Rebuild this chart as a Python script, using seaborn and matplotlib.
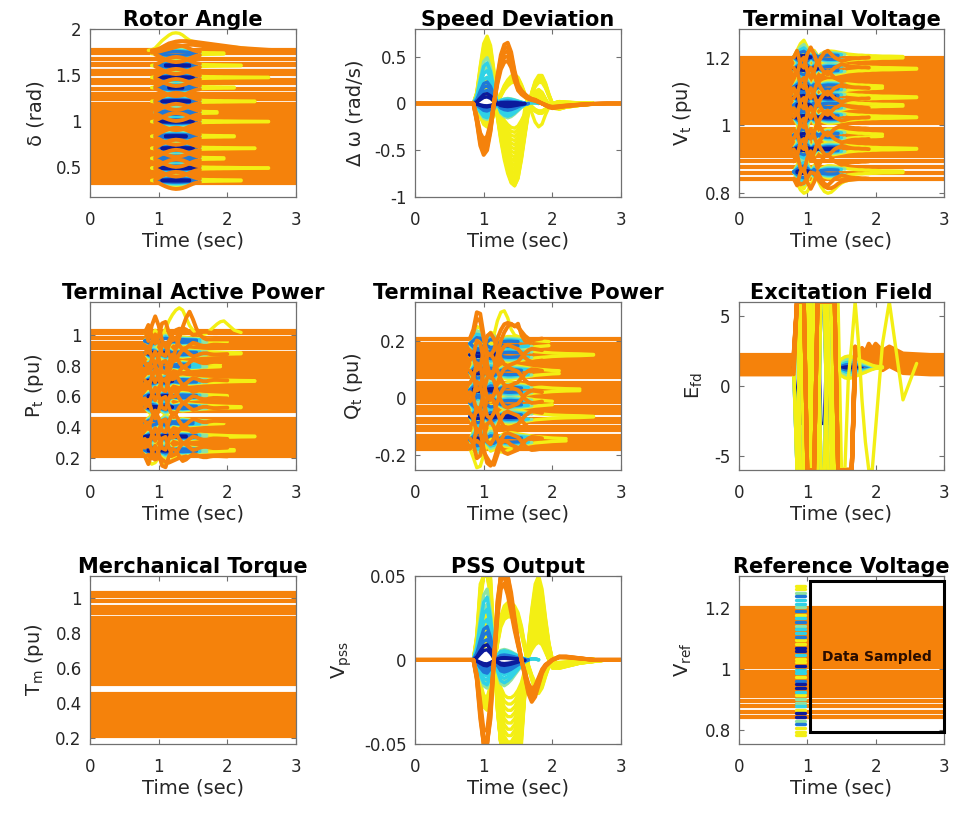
import numpy as np
import pandas as pd
import matplotlib
matplotlib.use("Agg")
import matplotlib.pyplot as plt
from matplotlib.patches import Rectangle
import seaborn as sns

# ---------------------------------------------------------------- data
# sampling instants (s) shared by every trajectory
TIME = [0.00, 0.80, 0.85, 0.90, 0.95, 1.00, 1.05, 1.10,
        1.15, 1.20, 1.25, 1.30, 1.35, 1.40, 1.45, 1.50,
        1.55, 1.60, 1.65, 1.70, 1.75, 1.80, 1.85, 1.90,
        1.95, 2.00, 2.10, 2.20, 2.40, 2.60, 2.80, 3.00]
NO_MOTION = [0.0] * len(TIME)

# disturbance classes and their colours ("orange_top" = orange traces drawn last)
GROUP_NAMES = ["navy", "blue", "cyan", "green", "yellow", "orange", "orange_top"]
GROUP_COLORS = ["#0b1a9c", "#1f78d8", "#2fd2e6", "#8ee3a2", "#f3ef14", "#f5820b", "#f5820b"]
COLOUR_ORDER = ["yellow", "green", "cyan", "blue", "navy"]
NAVY, BLUE, CYAN, GREEN, YELLOW, ORANGE, ORANGE_TOP = range(7)

# relative swing of each class inside one oscillation "eye"
EYE_CLASSES = [YELLOW, GREEN, CYAN, BLUE, NAVY]
EYE_SCALES = [1.0, 0.75, 0.55, 0.35, 0.1]
# inner classes fade out once below this fraction of their own peak swing
SETTLE_FRACTION = {YELLOW: 0.0, GREEN: 0.22, CYAN: 0.28, BLUE: 0.33, NAVY: 0.35}
# how long each operating point keeps ringing (relative), cycled over the centres
PERSISTENCE = [1.0, 0.55, 1.6, 0.8, 1.25, 0.65, 1.9, 0.9, 1.4, 0.7, 1.1, 1.7]

# --- rotor angle (rad)
ROTOR_LEVELS = [0.32, 0.355, 0.39, 0.425, 0.46, 0.495, 0.53, 0.565, 0.60, 0.635,
                0.67, 0.705, 0.74, 0.775, 0.81, 0.845, 0.88, 0.915, 0.95, 0.985,
                1.02, 1.055, 1.09, 1.125, 1.155, 1.18, 1.24, 1.27, 1.285, 1.345,
                1.405, 1.43, 1.445, 1.505, 1.535, 1.545, 1.605, 1.615, 1.675, 1.735, 1.765]
ROTOR_CENTERS = [0.35, 0.485, 0.59, 0.70, 0.83, 0.99, 1.09, 1.21, 1.36, 1.47, 1.60, 1.73]
ROTOR_SWING = [0, 0, 0, 0, 0.007, 0.018, 0.031, 0.042,
               0.051, 0.057, 0.060, 0.058, 0.053, 0.045, 0.034, 0.024,
               0.016, 0.012, 0.010, 0.009, 0.008, 0.008, 0.007, 0.007,
               0.006, 0.006, 0.005, 0.004, 0.003, 0.002, 0.001, 0]
ROTOR_TOP_YELLOW = [1.765, 1.765, 1.765, 1.77, 1.79, 1.83, 1.87, 1.90,
                    1.93, 1.95, 1.955, 1.95, 1.93, 1.90, 1.875, 1.86,
                    1.85, 1.845, 1.84, 1.835, 1.83, 1.825, 1.82, 1.815,
                    1.81, 1.805, 1.80, 1.79, 1.775, 1.767, 1.765, 1.765]
ROTOR_TOP_ORANGE = [1.765, 1.765, 1.765, 1.765, 1.77, 1.78, 1.80, 1.82,
                    1.84, 1.85, 1.86, 1.865, 1.865, 1.865, 1.86, 1.86,
                    1.855, 1.85, 1.845, 1.84, 1.835, 1.83, 1.825, 1.82,
                    1.815, 1.81, 1.80, 1.79, 1.78, 1.77, 1.765, 1.765]
ROTOR_TOP_ORANGE_2 = [1.74, 1.74, 1.74, 1.74, 1.745, 1.75, 1.76, 1.77,
                      1.78, 1.79, 1.80, 1.81, 1.815, 1.82, 1.825, 1.825,
                      1.82, 1.815, 1.81, 1.805, 1.80, 1.795, 1.79, 1.785,
                      1.78, 1.775, 1.77, 1.765, 1.755, 1.75, 1.745, 1.74]

# --- speed deviation (rad/s)
SPEED_SWING = [0, 0, 0, 0.12, 0.40, 0.64, 0.72, 0.62,
               0.35, 0.02, -0.30, -0.55, -0.72, -0.84, -0.88, -0.80,
               -0.58, -0.30, -0.05, 0.12, 0.24, 0.30, 0.30, 0.22,
               0.10, 0.0, -0.06, -0.04, -0.02, -0.005, 0, 0]
SPEED_TROUGH = [0, 0, 0, 0.05, 0.15, 0.25, 0.28, 0.20,
                0.05, -0.15, -0.40, -0.60, -0.75, -0.85, -0.88, -0.80,
                -0.60, -0.35, -0.10, 0.05, 0.12, 0.15, 0.12, 0.05,
                -0.02, -0.05, -0.06, -0.04, -0.02, -0.005, 0, 0]
SPEED_INNER = [0, 0, 0, 0.12, 0.40, 0.64, 0.70, 0.55,
               0.25, 0.0, -0.15, -0.20, -0.22, -0.20, -0.16, -0.11,
               -0.06, -0.02, 0.0, 0.01, 0.01, 0.0, 0, 0,
               0, 0, 0, 0, 0, 0, 0, 0]
SPEED_ORANGE = [0, 0, 0, -0.20, -0.45, -0.55, -0.50, -0.30,
                0.0, 0.30, 0.52, 0.63, 0.65, 0.55, 0.35, 0.20,
                0.14, 0.10, 0.07, 0.05, 0.04, 0.02, 0.0, -0.02,
                -0.04, -0.05, -0.04, -0.03, -0.015, -0.005, 0, 0]
SPEED_LATE_YELLOW = [0, 0, 0, 0.05, 0.20, 0.35, 0.40, 0.30,
                     0.10, -0.10, -0.30, -0.45, -0.55, -0.60, -0.60, -0.50,
                     -0.30, -0.05, 0.0, -0.10, -0.20, -0.25, -0.22, -0.12,
                     -0.04, 0.0, 0.01, 0.0, 0, 0, 0, 0]

# amplitude sets used for the speed and PSS families
OUTER_SCALES = [0.75, 0.80, 0.85, 0.90, 0.95, 1.00]
TROUGH_SCALES = [0.30, 0.35, 0.40, 0.45, 0.50, 0.55, 0.60, 0.65, 0.70, 0.75,
                 0.80, 0.85, 0.90, 0.95, 1.00]
INNER_SCALES = {GREEN: [0.55, 0.70], CYAN: [0.40, 0.50, 0.62],
                BLUE: [0.20, 0.27, 0.33], NAVY: [0.10, 0.15]}
ORANGE_SCALES = [0.70, 0.78, 0.86, 0.93, 1.00]

# --- terminal voltage (pu); the reference voltage shares the set points
VOLT_LEVELS = [0.843, 0.860, 0.877, 0.894, 0.911, 0.920, 0.930, 0.940, 0.950, 0.960,
               0.970, 0.980, 0.990, 1.006, 1.015, 1.024, 1.033, 1.042, 1.051, 1.060,
               1.070, 1.080, 1.090, 1.100, 1.110, 1.120, 1.130, 1.140, 1.150, 1.160,
               1.170, 1.180, 1.190, 1.200]
VT_CENTERS = [0.863, 0.931, 0.971, 1.024, 1.059, 1.083, 1.113, 1.167, 1.201]
VT_SWING = [0, 0, 0.02, 0.04, 0.05, 0.03, 0.0, -0.02,
            -0.005, 0.01, 0.015, 0.018, 0.018, 0.017, 0.015, 0.013,
            0.011, 0.009, 0.008, 0.007, 0.006, 0.006, 0.005, 0.005,
            0.004, 0.004, 0.003, 0.003, 0.002, 0.001, 0.001, 0]
VT_ORANGE = [0, 0, -0.02, 0.02, 0.03, -0.01, -0.03, -0.01,
             0.02, 0.0, -0.015, -0.02, -0.01, 0.0, 0.005, 0.01,
             0.008, 0.005, 0.003, 0.002, 0.002, 0.001, 0.001, 0.0,
             0, 0, 0, 0, 0, 0, 0, 0]
VT_LOW_YELLOW = [0.843, 0.843, 0.83, 0.81, 0.80, 0.805, 0.825, 0.845,
                 0.84, 0.82, 0.805, 0.80, 0.803, 0.812, 0.822, 0.83,
                 0.835, 0.838, 0.84, 0.841, 0.842, 0.842, 0.843, 0.843,
                 0.843, 0.843, 0.843, 0.843, 0.843, 0.843, 0.843, 0.843]
VT_LOW_ORANGE = [0.843, 0.843, 0.838, 0.826, 0.83, 0.845, 0.862, 0.858,
                 0.843, 0.83, 0.82, 0.815, 0.815, 0.82, 0.828, 0.834,
                 0.837, 0.839, 0.84, 0.841, 0.842, 0.842, 0.843, 0.843,
                 0.843, 0.843, 0.843, 0.843, 0.843, 0.843, 0.843, 0.843]

# --- active power / mechanical torque set points (pu)
POWER_LEVELS = [0.210, 0.229, 0.248, 0.267, 0.286, 0.305, 0.324, 0.343, 0.362, 0.381,
                0.400, 0.419, 0.438, 0.452, 0.508, 0.527, 0.546, 0.568, 0.587, 0.606,
                0.625, 0.644, 0.666, 0.685, 0.704, 0.723, 0.742, 0.761, 0.780, 0.802,
                0.821, 0.840, 0.859, 0.875, 0.885, 0.917, 0.933, 0.949, 0.982, 1.014, 1.027]
PT_CENTERS = [0.25, 0.34, 0.43, 0.53, 0.60, 0.70, 0.80, 0.88, 0.96]
PT_SWING = [0, 0, 0.03, 0.05, 0.035, 0.005, 0.03, 0.05,
            0.035, 0.01, 0.015, 0.022, 0.025, 0.022, 0.020, 0.018,
            0.016, 0.014, 0.012, 0.011, 0.010, 0.009, 0.008, 0.007,
            0.006, 0.005, 0.004, 0.003, 0.002, 0.001, 0, 0]
PT_ORANGE = [0, 0, -0.05, 0.02, 0.07, 0.02, -0.06, -0.07,
             0.0, 0.05, 0.04, 0.0, -0.03, -0.02, 0.0, 0.015,
             0.01, 0.0, -0.005, -0.005, 0.0, 0.003, 0.003, 0.002,
             0.001, 0, 0, 0, 0, 0, 0, 0]
PT_TOP_YELLOW = [1.014, 1.014, 0.97, 0.99, 1.03, 1.00, 0.98, 1.04,
                 1.09, 1.13, 1.16, 1.175, 1.16, 1.11, 1.06, 1.03,
                 1.01, 1.00, 1.00, 1.01, 1.03, 1.05, 1.07, 1.085,
                 1.09, 1.07, 1.03, 1.015, 1.014, 1.014, 1.014, 1.014]
PT_TOP_ORANGE = [1.027, 1.027, 0.96, 1.06, 1.12, 1.06, 0.96, 0.92,
                 0.96, 1.00, 1.03, 1.04, 1.035, 1.03, 1.03, 1.03,
                 1.028, 1.027, 1.027, 1.027, 1.027, 1.027, 1.027, 1.027,
                 1.027, 1.027, 1.027, 1.027, 1.027, 1.027, 1.027, 1.027]
PT_RISE_ORANGE = [0.78, 0.78, 0.75, 0.79, 0.80, 0.75, 0.71, 0.70,
                  0.75, 0.83, 0.91, 0.98, 1.05, 1.11, 1.15, 1.10,
                  1.04, 1.00, 0.98, 0.97, 0.97, 0.97, 0.97, 0.97,
                  0.97, 0.97, 0.97, 0.97, 0.97, 0.97, 0.97, 0.97]
PT_LOW_YELLOW = [0.21, 0.21, 0.18, 0.16, 0.17, 0.20, 0.18, 0.16,
                 0.17, 0.19, 0.20, 0.205, 0.21, 0.21, 0.21, 0.21,
                 0.21, 0.21, 0.21, 0.21, 0.21, 0.21, 0.21, 0.21,
                 0.21, 0.21, 0.21, 0.21, 0.21, 0.21, 0.21, 0.21]
PT_LOW_ORANGE = [0.21, 0.21, 0.22, 0.20, 0.19, 0.20, 0.19, 0.175,
                 0.17, 0.18, 0.19, 0.20, 0.205, 0.21, 0.21, 0.21,
                 0.21, 0.21, 0.21, 0.21, 0.21, 0.21, 0.21, 0.21,
                 0.21, 0.21, 0.21, 0.21, 0.21, 0.21, 0.21, 0.21]

# --- reactive power (pu)
QT_LEVELS = [-0.178, -0.166, -0.154, -0.142, -0.133, -0.113, -0.103, -0.083, -0.073, -0.053,
             -0.043, -0.033, -0.013, -0.002, 0.009, 0.020, 0.031, 0.042, 0.052, 0.072,
             0.083, 0.095, 0.107, 0.119, 0.131, 0.143, 0.155, 0.167, 0.179, 0.188, 0.208]
QT_CENTERS = [-0.147, -0.066, -0.018, 0.028, 0.09, 0.151, 0.19]
QT_SWING = [0, 0, 0.03, 0.06, 0.055, 0.02, -0.02, -0.04,
            -0.035, -0.01, 0.015, 0.022, 0.025, 0.025, 0.023, 0.021,
            0.019, 0.017, 0.015, 0.013, 0.011, 0.010, 0.009, 0.008,
            0.007, 0.006, 0.005, 0.004, 0.003, 0.001, 0, 0]
QT_ORANGE = [0, 0, 0.02, 0.07, 0.06, 0.0, -0.05, -0.06,
             -0.04, 0.0, 0.03, 0.05, 0.055, 0.05, 0.045, 0.04,
             0.025, 0.01, 0.0, -0.005, -0.004, -0.002, 0, 0,
             0, 0, 0, 0, 0, 0, 0, 0]
QT_TOP_ORANGE = [0.208, 0.208, 0.24, 0.30, 0.295, 0.22, 0.12, 0.07,
                 0.10, 0.15, 0.20, 0.23, 0.25, 0.26, 0.25, 0.26,
                 0.22, 0.20, 0.195, 0.20, 0.205, 0.207, 0.208, 0.208,
                 0.208, 0.208, 0.208, 0.208, 0.208, 0.208, 0.208, 0.208]
QT_TOP_YELLOW = [0.208, 0.208, 0.20, 0.22, 0.20, 0.15, 0.12, 0.16,
                 0.22, 0.27, 0.30, 0.305, 0.28, 0.24, 0.22, 0.215,
                 0.21, 0.21, 0.21, 0.209, 0.209, 0.208, 0.208, 0.208,
                 0.208, 0.208, 0.208, 0.208, 0.208, 0.208, 0.208, 0.208]
QT_LOW_YELLOW = [-0.178, -0.178, -0.21, -0.245, -0.24, -0.20, -0.15, -0.14,
                 -0.16, -0.18, -0.19, -0.19, -0.185, -0.18, -0.18, -0.178,
                 -0.178, -0.178, -0.178, -0.178, -0.178, -0.178, -0.178, -0.178,
                 -0.178, -0.178, -0.178, -0.178, -0.178, -0.178, -0.178, -0.178]
QT_LOW_ORANGE = [-0.178, -0.178, -0.16, -0.15, -0.16, -0.19, -0.21, -0.23,
                 -0.235, -0.20, -0.16, -0.15, -0.155, -0.165, -0.17, -0.175,
                 -0.178, -0.178, -0.178, -0.178, -0.178, -0.178, -0.178, -0.178,
                 -0.178, -0.178, -0.178, -0.178, -0.178, -0.178, -0.178, -0.178]

# --- excitation field voltage, ceiling +-6
EFD_CEILING = 6.0
EFD_LEVELS = [0.82, 1.02, 1.22, 1.42, 1.62, 1.82, 2.02, 2.20]
EFD_CENTERS = [1.32]
EFD_SWING = [0, 0, -40, 40, 40, -40, 40, -40,
             -40, 40, 40, -40, -40, 20, 0.4, 0.6,
             0.75, 0.8, 0.75, 0.65, 0.55, 0.45, 0.35, 0.25,
             0.15, 0.08, 0.03, 0, 0, 0, 0, 0]
EFD_ORANGE = [0, 0, 12, 12, 12, -12, -12, -12,
              12, 12, 12, 12, 12, 12, -12, -12,
              -12, -12, -12, 0.6, 0.2, 0.5, 0.2, 0.8,
              0.4, 0.8, 0.3, 0.6, 0.1, 0.05, 0, 0]
EFD_LATE_YELLOW = [1.6, 1.6, -8, 8, -8, 8, -8, 8,
                   8, 8, 8, 8, -8, -8, 8, -8,
                   -8, 0.5, 3, 8, 3, -1, -4, -8,
                   -8, -3, 3, 8, -1, 1.6, 1.6, 1.6]

# --- PSS output, limited to +-0.05
PSS_LIMIT = 0.05
PSS_SWING = [0, 0, 0, 0.015, 0.045, 0.07, 0.075, 0.05,
             0.01, -0.03, -0.065, -0.08, -0.085, -0.085, -0.08, -0.07,
             -0.05, -0.02, 0.01, 0.03, 0.045, 0.05, 0.042, 0.025,
             0.01, 0.0, -0.005, -0.004, -0.002, -0.001, 0, 0]
PSS_TROUGH = [0, 0, 0, 0.005, 0.015, 0.025, 0.03, 0.02,
              0.0, -0.03, -0.055, -0.07, -0.075, -0.075, -0.07, -0.06,
              -0.045, -0.02, 0.005, 0.02, 0.03, 0.035, 0.03, 0.015,
              0.0, -0.005, -0.005, -0.004, -0.002, -0.001, 0, 0]
PSS_INNER = [0, 0, 0, 0.012, 0.035, 0.055, 0.06, 0.04,
             0.01, -0.01, -0.02, -0.022, -0.02, -0.017, -0.013, -0.009,
             -0.005, -0.002, 0, 0.001, 0.001, 0, 0, 0,
             0, 0, 0, 0, 0, 0, 0, 0]
PSS_ORANGE = [0, 0, 0, -0.012, -0.035, -0.06, -0.06, -0.035,
              0.0, 0.035, 0.06, 0.065, 0.055, 0.04, 0.025, 0.012,
              0.0, -0.01, -0.02, -0.025, -0.022, -0.015, -0.008, -0.004,
              -0.002, 0.0, 0.002, 0.002, 0.001, 0.0, 0, 0]

# --- reference-voltage steps applied just before the sampling window
VREF_STEP_TIME = [0.83, 0.96]
VREF_NAVY = [1.070, 1.058, 1.010, 0.950, 0.938, 0.854, 0.842]
VREF_BLUE = [1.238, 1.190, 1.154, 1.106, 0.962, 0.818]
VREF_CYAN = [1.226, 1.214, 1.166, 1.130, 1.118, 1.046, 0.998, 0.986, 0.926, 0.878]
VREF_GREEN = [1.250, 1.202, 1.142, 0.902, 0.890, 0.830]
VREF_YELLOW = [1.272, 1.262, 1.178, 1.094, 1.082, 1.034, 1.022, 0.974, 0.914,
               0.866, 0.806, 0.794, 0.785]
SAMPLED_WINDOW = [1.04, 3.0, 0.793, 1.288]

X_TICKS = [0, 1, 2, 3]

# smallest deviation (data units) treated as a visible disturbance, per panel
ACTIVE_EPS = {"delta": 0.004, "speed": 0.005, "vt": 0.002, "pt": 0.004,
              "qt": 0.004, "efd": 0.05, "pss": 0.0004}


# ---------------------------------------------------------------- builders
TIME_ARR = np.asarray(TIME, float)


def window(y, dev, eps):
    """Keep only the stretch of a trace where it departs from its set point."""
    idx = np.nonzero(np.abs(dev) > eps)[0]
    if idx.size == 0:
        return None
    a, b = max(idx[0] - 1, 0), min(idx[-1] + 2, len(TIME))
    return TIME_ARR[a:b], np.asarray(y, float)[a:b]


def eye_layers(shape):
    return [(g, shape, [k], [1, -1]) for g, k in zip(EYE_CLASSES, EYE_SCALES)]


def wide_layers(outer, trough, inner, mirror):
    layers = [(YELLOW, outer, OUTER_SCALES, [1, mirror]),
              (YELLOW, trough, TROUGH_SCALES, [1])]
    for g in (GREEN, CYAN, BLUE, NAVY):
        layers.append((g, inner, INNER_SCALES[g], [1, mirror]))
    return layers


def coloured(centers, layers, eps, stagger=True):
    curves = []
    for i, c in enumerate(centers):
        e0 = eps * (PERSISTENCE[i % len(PERSISTENCE)] if stagger else 1.0)
        for g, shape, ks, signs in layers:
            shape = np.asarray(shape, float)
            for s in signs:
                for k in ks:
                    dev = s * k * shape
                    e = e0
                    if stagger:
                        e = max(e0, SETTLE_FRACTION[g] * np.abs(dev).max())
                    w = window(c + dev, dev, e)
                    if w is not None:
                        curves.append((g,) + w)
    return curves


def flat(levels):
    return [(ORANGE, TIME_ARR, np.full(len(TIME), lev)) for lev in levels]


def shaped(levels, shape, scales, group=ORANGE_TOP):
    shape = np.asarray(shape, float)
    return [(group, TIME_ARR, lev + k * shape) for lev in levels for k in scales]


def shaped_window(levels, shape, eps):
    shape = np.asarray(shape, float)
    curves = []
    for lev in levels:
        w = window(lev + shape, shape, eps)
        if w is not None:
            curves.append((ORANGE_TOP,) + w)
    return curves


def zigzags(levels, shape, every):
    """Every n-th set point also swings with the orange pattern, signs alternating."""
    shape = np.asarray(shape, float)
    curves = []
    for n, lev in enumerate(levels[::every]):
        sgn = 1 if n % 2 == 0 else -1
        w = window(lev + sgn * shape, shape, 1e-9)
        if w is not None:
            curves.append((ORANGE_TOP,) + w)
    return curves


def arcs(centers, shape, factor, eps):
    shape = np.asarray(shape, float)
    curves = []
    for c in centers:
        for s in (1, -1):
            w = window(c + s * factor * shape, factor * shape, eps)
            if w is not None:
                curves.append((ORANGE_TOP,) + w)
    return curves


def extras(items, eps):
    curves = []
    for g, y in items:
        y = np.asarray(y, float)
        w = window(y, y - y[0], eps)
        if w is not None:
            curves.append((g,) + w)
    return curves


def to_frame(curves, limit=None):
    parts = []
    for run, (g, t, y) in enumerate(curves):
        y = np.asarray(y, float)
        if limit is not None:
            y = np.clip(y, -limit, limit)
        parts.append(pd.DataFrame({"t": np.asarray(t, float), "v": y,
                                   "grp": GROUP_NAMES[g], "run": run}))
    if not parts:
        return None
    return pd.concat(parts, ignore_index=True)


E = ACTIVE_EPS
curves = {
    "delta": flat(ROTOR_LEVELS)
    + coloured(ROTOR_CENTERS, eye_layers(ROTOR_SWING), E["delta"])
    + arcs(ROTOR_CENTERS, ROTOR_SWING, 1.55, 0.02)
    + extras([(YELLOW, ROTOR_TOP_YELLOW), (ORANGE_TOP, ROTOR_TOP_ORANGE),
              (ORANGE_TOP, ROTOR_TOP_ORANGE_2)], E["delta"]),
    "speed": coloured([0.0], wide_layers(SPEED_SWING, SPEED_TROUGH, SPEED_INNER, -0.35),
                      E["speed"], stagger=False)
    + extras([(YELLOW, SPEED_LATE_YELLOW)], E["speed"])
    + shaped([0.0], SPEED_ORANGE, ORANGE_SCALES),
    "vt": flat(VOLT_LEVELS)
    + coloured(VT_CENTERS, eye_layers(VT_SWING), E["vt"])
    + zigzags(VOLT_LEVELS, VT_ORANGE, 3)
    + extras([(YELLOW, VT_LOW_YELLOW), (ORANGE_TOP, VT_LOW_ORANGE)], E["vt"]),
    "pt": flat(POWER_LEVELS)
    + coloured(PT_CENTERS, eye_layers(PT_SWING), E["pt"])
    + zigzags(POWER_LEVELS, PT_ORANGE, 3)
    + extras([(YELLOW, PT_TOP_YELLOW), (YELLOW, PT_LOW_YELLOW),
              (ORANGE_TOP, PT_TOP_ORANGE), (ORANGE_TOP, PT_RISE_ORANGE),
              (ORANGE_TOP, PT_LOW_ORANGE)], E["pt"]),
    "qt": flat(QT_LEVELS)
    + coloured(QT_CENTERS, eye_layers(QT_SWING), E["qt"])
    + zigzags(QT_LEVELS, QT_ORANGE, 3)
    + extras([(YELLOW, QT_TOP_YELLOW), (YELLOW, QT_LOW_YELLOW),
              (ORANGE_TOP, QT_TOP_ORANGE), (ORANGE_TOP, QT_LOW_ORANGE)], E["qt"]),
    "efd": shaped(EFD_LEVELS, EFD_ORANGE, [1], group=ORANGE)
    + coloured(EFD_CENTERS, eye_layers(EFD_SWING), E["efd"], stagger=False)
    + extras([(YELLOW, EFD_LATE_YELLOW)], E["efd"])
    + shaped_window(EFD_LEVELS, EFD_ORANGE, 5.0),
    "tm": flat(POWER_LEVELS),
    "pss": coloured([0.0], wide_layers(PSS_SWING, PSS_TROUGH, PSS_INNER, -0.4),
                    E["pss"], stagger=False)
    + shaped([0.0], PSS_ORANGE, ORANGE_SCALES),
    "vref": flat(VOLT_LEVELS)
    + [(g, np.asarray(VREF_STEP_TIME), np.array([v, v]))
       for g, vals in ((YELLOW, VREF_YELLOW), (GREEN, VREF_GREEN), (CYAN, VREF_CYAN),
                       (BLUE, VREF_BLUE), (NAVY, VREF_NAVY))
       for v in vals],
}
LIMITS = {"efd": EFD_CEILING, "pss": PSS_LIMIT}
# the field-voltage swings are drawn with the widest class last
CLASS_ORDER = {"efd": COLOUR_ORDER[::-1]}

# ---------------------------------------------------------------- figure
sns.set_style("white")
plt.rcParams["font.family"] = ["DejaVu Sans"]
plt.rcParams["mathtext.default"] = "regular"

fig = plt.figure(figsize=(9.54, 8.13), dpi=100)
palette = dict(zip(GROUP_NAMES, GROUP_COLORS))
LW_BASE, LW_CLASS, LW_TOP = 3.0, 2.4, 2.8

cols = [0.0943, 0.4350, 0.7746]
widths = [0.2160, 0.2160, 0.2149]
rows = [0.7577, 0.4219, 0.0849]
H = 0.2070

panels = [
    ("delta", "Rotor Angle", "δ (rad)", (0.17, 2.0), [0.5, 1, 1.5, 2]),
    ("speed", "Speed Deviation", "Δ ω (rad/s)", (-1.0, 0.8), [-1, -0.5, 0, 0.5]),
    ("vt", "Terminal Voltage", "V$_{t}$ (pu)", (0.789, 1.285), [0.8, 1, 1.2]),
    ("pt", "Terminal Active Power", "P$_{t}$ (pu)", (0.122, 1.215), [0.2, 0.4, 0.6, 0.8, 1]),
    ("qt", "Terminal Reactive Power", "Q$_{t}$ (pu)", (-0.253, 0.337), [-0.2, 0, 0.2]),
    ("efd", "Excitation Field", "E$_{fd}$", (-6, 6), [-5, 0, 5]),
    ("tm", "Merchanical Torque", "T$_{m}$ (pu)", (0.167, 1.128), [0.2, 0.4, 0.6, 0.8, 1]),
    ("pss", "PSS Output", "V$_{pss}$", (-0.05, 0.05), [-0.05, 0, 0.05]),
    ("vref", "Reference Voltage", "V$_{ref}$", (0.754, 1.306), [0.8, 1, 1.2]),
]

for idx, (key, title, ylabel, ylim, yticks) in enumerate(panels):
    r, c = divmod(idx, 3)
    ax = fig.add_axes([cols[c], rows[r], widths[c], H])
    passes = [(["orange"], LW_BASE),
              (CLASS_ORDER.get(key, COLOUR_ORDER), LW_CLASS),
              (["orange_top"], LW_TOP)]
    all_curves = curves[key]
    for names, lw in passes:
        ids = [GROUP_NAMES.index(n) for n in names]
        df = to_frame([cv for cv in all_curves if cv[0] in ids], LIMITS.get(key))
        if df is None:
            continue
        sns.lineplot(data=df, x="t", y="v", hue="grp", hue_order=names,
                     palette=palette, units="run", estimator=None, sort=False,
                     legend=False, linewidth=lw, solid_capstyle="round",
                     solid_joinstyle="round", ax=ax)
    ax.set_xlim(0, 3)
    ax.set_ylim(*ylim)
    ax.set_xticks(X_TICKS)
    ax.set_xticklabels([f"{v:g}" for v in X_TICKS])
    ax.set_yticks(yticks)
    ax.set_yticklabels([f"{v:g}" for v in yticks])
    ax.set_title(title, fontsize=15, fontweight="bold", pad=2, color="black")
    ax.set_xlabel("Time (sec)", fontsize=14, labelpad=2, color="#262626")
    ax.set_ylabel(ylabel, fontsize=14, color="#262626", labelpad=7)
    ax.tick_params(axis="both", direction="in", length=3.5, width=0.8,
                   top=True, right=True, bottom=True, left=True,
                   color="#707070", labelcolor="#262626", labelsize=12)
    ax.tick_params(axis="x", pad=10)
    ax.tick_params(axis="y", pad=6)
    for sp in ax.spines.values():
        sp.set_visible(True)
        sp.set_color("#707070")
        sp.set_linewidth(0.9)

    if key == "vref":
        x0, x1, y0, y1 = SAMPLED_WINDOW
        ax.add_patch(Rectangle((x0, y0), x1 - x0, y1 - y0, fill=False,
                               edgecolor="black", linewidth=2.2, clip_on=False,
                               zorder=5))
        ax.text((x0 + x1) / 2, 1.04, "Data Sampled", ha="center", va="center",
                fontsize=10, fontweight="bold", color="#2a0d00", zorder=6)

fig.savefig("out.png", dpi=100)
